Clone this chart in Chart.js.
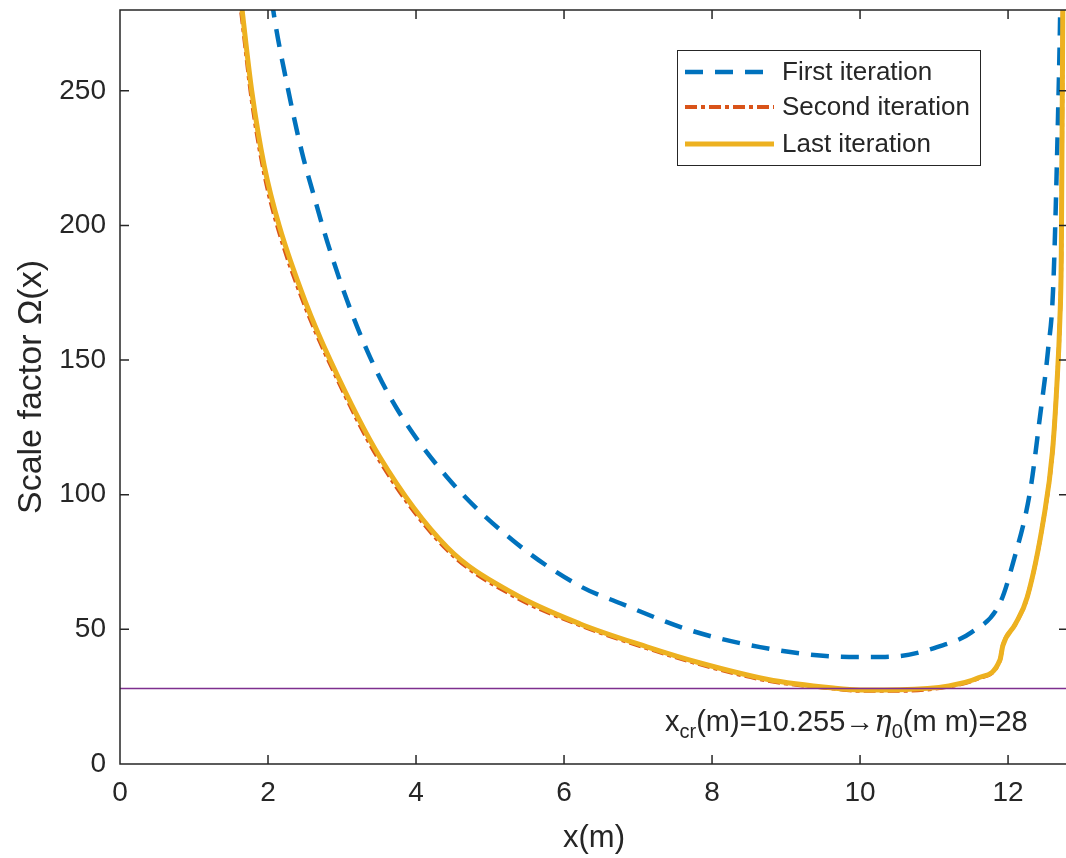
<!DOCTYPE html>
<html>
<head>
<meta charset="utf-8">
<title>Scale factor</title>
<script src="https://cdn.jsdelivr.net/npm/chart.js@4.4.1/dist/chart.umd.min.js"></script>
<style>
  html, body { margin: 0; padding: 0; background: #fff; overflow: hidden; }
  #wrap { width: 1070px; height: 858px; position: relative; }
</style>
</head>
<body>
<div id="wrap"><canvas id="scaleChart"></canvas></div>
<script>
// values (x in m, scale factor)
const firstX  = [2.00, 2.07, 2.26, 2.46, 2.61, 2.80, 3.07, 3.38, 3.74, 4.42, 5.31, 6.22, 6.76, 7.70, 8.65, 9.59, 10.09, 10.50, 11.04, 11.50, 11.89, 12.07, 12.30, 12.43, 12.54, 12.61, 12.68, 12.70, 12.71];
const firstY  = [295, 280, 252, 227, 212, 194, 172, 151, 132, 106.5, 83, 66, 59.7, 49.7, 43.4, 40, 39.7, 40, 43.4, 48.8, 59.7, 75, 101.6, 128.7, 153.6, 177, 246, 272, 290];

const lastX   = [1.60, 1.65, 1.78, 1.95, 2.15, 2.50, 2.84, 3.51, 4.42, 5.31, 6.22, 7.12, 7.84, 8.74, 9.64, 10.00, 10.54, 11.20, 11.60, 11.89, 11.93, 12.10, 12.26, 12.48, 12.60, 12.66, 12.70, 12.72, 12.74, 12.75];
const lastY   = [292, 280, 250, 222, 200, 172, 150, 114, 80.5, 63.4, 52, 43.5, 37.5, 31.5, 28.2, 27.5, 27.6, 29, 32, 38.6, 44, 52, 62, 91, 116, 141, 165, 190, 280, 300];

const secondX = lastX;
const secondY = [288, 276.5, 246.5, 219, 197.5, 170, 148.5, 112.5, 79.5, 62.5, 51.5, 43, 37, 31, 28, 27.2, 27.2, 28.8, 31.8, 38.4, 44, 52, 62, 91, 116, 141, 165, 190, 280, 300];

const critX = [0, 12.81];
const critY = [28, 28];

const xTicks = [0, 2, 4, 6, 8, 10, 12];
const yTicks = [0, 50, 100, 150, 200, 250];

const seriesNames = ['First iteration', 'Second iteration', 'Last iteration'];
const annotation = { x: 'x', xSub: 'cr', mid: '(m)=10.255\u2192', eta: '\u03B7', etaSub: '0', tail: '(m m)=28' };

const toPoints = (xs, ys) => xs.map((v, i) => ({ x: v, y: ys[i] }));

const FONT = '"Liberation Sans", Arial, sans-serif';
const INK = '#262626';

// box, inward ticks, legend and text like a MATLAB axes
const framePlugin = {
  id: 'frame',
  afterDraw(chart) {
    const { ctx, chartArea: a, scales: { x, y } } = chart;
    ctx.save();
    ctx.strokeStyle = INK;
    ctx.lineWidth = 1.5;
    ctx.beginPath();
    ctx.rect(a.left, a.top, a.right - a.left, a.bottom - a.top);
    const len = 9;
    xTicks.forEach(v => {
      const px = x.getPixelForValue(v);
      ctx.moveTo(px, a.bottom); ctx.lineTo(px, a.bottom - len);
      ctx.moveTo(px, a.top); ctx.lineTo(px, a.top + len);
    });
    yTicks.forEach(v => {
      const py = y.getPixelForValue(v);
      ctx.moveTo(a.left, py); ctx.lineTo(a.left + len, py);
      ctx.moveTo(a.right, py); ctx.lineTo(a.right - len, py);
    });
    ctx.stroke();

    // legend
    const lx = 677, ly = 50, lw = 303, lh = 115;
    ctx.fillStyle = '#fff';
    ctx.fillRect(lx, ly, lw, lh);
    ctx.lineWidth = 1;
    ctx.strokeStyle = INK;
    ctx.strokeRect(lx + 0.5, ly + 0.5, lw, lh);
    const rows = [72, 107, 144];
    chart.data.datasets.slice(0, 3).forEach((ds, i) => {
      ctx.save();
      ctx.strokeStyle = ds.borderColor;
      ctx.lineWidth = ds.borderWidth;
      ctx.setLineDash(ds.borderDash || []);
      ctx.beginPath();
      ctx.moveTo(685, rows[i]);
      ctx.lineTo(774, rows[i]);
      ctx.stroke();
      ctx.restore();
      ctx.fillStyle = INK;
      ctx.font = '26px ' + FONT;
      ctx.textBaseline = 'middle';
      ctx.fillText(ds.label, 782, rows[i] + 1);
    });

    // annotation text
    let tx = 665;
    const base = 731;
    const big = '29px ' + FONT, small = '20px ' + FONT;
    ctx.fillStyle = INK;
    ctx.textBaseline = 'alphabetic';
    const put = (s, f, dy) => { ctx.font = f; ctx.fillText(s, tx, base + dy); tx += ctx.measureText(s).width; };
    put(annotation.x, big, 0);
    put(annotation.xSub, small, 7);
    put(annotation.mid, big, 0);
    put(annotation.eta, 'italic 29px "DejaVu Serif", serif', 0);
    put(annotation.etaSub, small, 7);
    put(annotation.tail, big, 0);
    ctx.restore();
  }
};

const ctxEl = document.getElementById('scaleChart');
new Chart(ctxEl, {
  type: 'line',
  data: {
    datasets: [
      { label: seriesNames[0], data: toPoints(firstX, firstY), borderColor: '#0072BD', borderWidth: 4.5, borderDash: [18, 12], order: 4 },
      { label: seriesNames[1], data: toPoints(secondX, secondY), borderColor: '#D95319', borderWidth: 4, borderDash: [12, 4, 4, 4], order: 3 },
      { label: seriesNames[2], data: toPoints(lastX, lastY), borderColor: '#EDB120', borderWidth: 5, order: 2 },
      { label: 'critical', data: toPoints(critX, critY), borderColor: '#7E2F8E', borderWidth: 1.5, order: 1, tension: 0 }
    ]
  },
  options: {
    responsive: true,
    maintainAspectRatio: false,
    animation: false,
    devicePixelRatio: 1,
    layout: { padding: { top: 10, right: 2, left: 0, bottom: 0 } },
    elements: {
      point: { radius: 0 },
      line: { tension: 0.35, cubicInterpolationMode: 'monotone', fill: false }
    },
    plugins: { legend: { display: false }, tooltip: { enabled: false } },
    scales: {
      x: {
        type: 'linear',
        min: 0,
        max: 12.81,
        afterFit: s => { s.height = 94; s.paddingLeft = 0; s.paddingRight = 0; },
        grid: { display: false, drawTicks: false },
        border: { display: false },
        ticks: { stepSize: 2, includeBounds: false, padding: 12, color: INK, font: { family: FONT, size: 28 }, maxRotation: 0 },
        title: { display: true, text: 'x(m)', color: INK, font: { family: FONT, size: 31 }, padding: { bottom: 1 } }
      },
      y: {
        type: 'linear',
        min: 0,
        max: 280,
        afterFit: s => { s.width = 120; s.paddingTop = 0; s.paddingBottom = 0; },
        grid: { display: false, drawTicks: false },
        border: { display: false },
        ticks: { stepSize: 50, includeBounds: false, padding: 14, color: INK, font: { family: FONT, size: 28 } },
        title: { display: true, text: 'Scale factor \u03A9(x)', color: INK, font: { family: FONT, size: 34 }, padding: { top: 11 } }
      }
    }
  },
  plugins: [framePlugin]
});
</script>
</body>
</html>
